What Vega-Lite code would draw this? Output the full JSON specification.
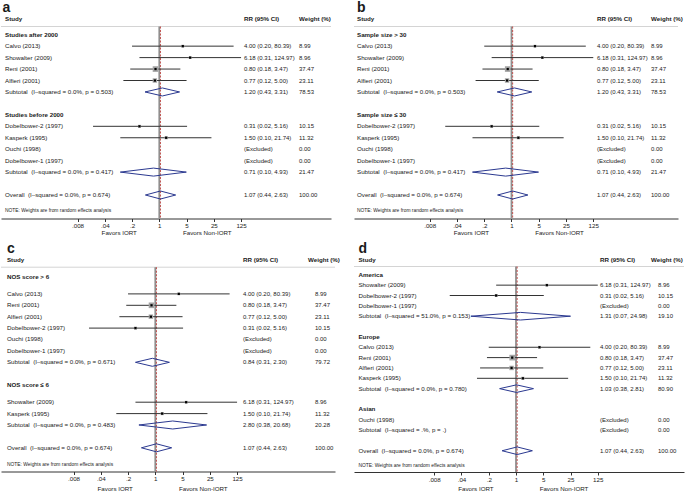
{
"$schema":"https://vega.github.io/schema/vega-lite/v6.json",
"padding":0,
"autosize":{"type":"pad"},
"datasets":{
"a":[
{"row":0,"type":"group","label":"Studies after 2000"},
{"row":1,"type":"study","label":"Calvo (2013)","rr":4.00,"lo":0.20,"hi":80.39,"weight":8.99,"rrtext":"4.00 (0.20, 80.39)","wtext":"8.99"},
{"row":2,"type":"study","label":"Showalter (2009)","rr":6.18,"lo":0.31,"hi":124.97,"weight":8.96,"rrtext":"6.18 (0.31, 124.97)","wtext":"8.96"},
{"row":3,"type":"study","label":"Reni (2001)","rr":0.80,"lo":0.18,"hi":3.47,"weight":37.47,"rrtext":"0.80 (0.18, 3.47)","wtext":"37.47"},
{"row":4,"type":"study","label":"Alfieri (2001)","rr":0.77,"lo":0.12,"hi":5.00,"weight":23.11,"rrtext":"0.77 (0.12, 5.00)","wtext":"23.11"},
{"row":5,"type":"subtotal","label":"Subtotal\u00a0\u00a0(I–squared = 0.0%, p = 0.503)","rr":1.20,"lo":0.43,"hi":3.31,"weight":78.53,"rrtext":"1.20 (0.43, 3.31)","wtext":"78.53"},
{"row":7,"type":"group","label":"Studies before 2000"},
{"row":8,"type":"study","label":"Dobelbower-2 (1997)","rr":0.31,"lo":0.02,"hi":5.16,"weight":10.15,"rrtext":"0.31 (0.02, 5.16)","wtext":"10.15"},
{"row":9,"type":"study","label":"Kasperk (1995)","rr":1.50,"lo":0.10,"hi":21.74,"weight":11.32,"rrtext":"1.50 (0.10, 21.74)","wtext":"11.32"},
{"row":10,"type":"study","label":"Ouchi (1998)","weight":0,"rrtext":"(Excluded)","wtext":"0.00"},
{"row":11,"type":"study","label":"Dobelbower-1 (1997)","weight":0,"rrtext":"(Excluded)","wtext":"0.00"},
{"row":12,"type":"subtotal","label":"Subtotal\u00a0\u00a0(I–squared = 0.0%, p = 0.417)","rr":0.71,"lo":0.10,"hi":4.93,"weight":21.47,"rrtext":"0.71 (0.10, 4.93)","wtext":"21.47"},
{"row":14,"type":"overall","label":"Overall\u00a0\u00a0(I–squared = 0.0%, p = 0.674)","rr":1.07,"lo":0.44,"hi":2.63,"weight":100,"rrtext":"1.07 (0.44, 2.63)","wtext":"100.00"}
],
"b":[
{"row":0,"type":"group","label":"Sample size > 30"},
{"row":1,"type":"study","label":"Calvo (2013)","rr":4.00,"lo":0.20,"hi":80.39,"weight":8.99,"rrtext":"4.00 (0.20, 80.39)","wtext":"8.99"},
{"row":2,"type":"study","label":"Showalter (2009)","rr":6.18,"lo":0.31,"hi":124.97,"weight":8.96,"rrtext":"6.18 (0.31, 124.97)","wtext":"8.96"},
{"row":3,"type":"study","label":"Reni (2001)","rr":0.80,"lo":0.18,"hi":3.47,"weight":37.47,"rrtext":"0.80 (0.18, 3.47)","wtext":"37.47"},
{"row":4,"type":"study","label":"Alfieri (2001)","rr":0.77,"lo":0.12,"hi":5.00,"weight":23.11,"rrtext":"0.77 (0.12, 5.00)","wtext":"23.11"},
{"row":5,"type":"subtotal","label":"Subtotal\u00a0\u00a0(I–squared = 0.0%, p = 0.503)","rr":1.20,"lo":0.43,"hi":3.31,"weight":78.53,"rrtext":"1.20 (0.43, 3.31)","wtext":"78.53"},
{"row":7,"type":"group","label":"Sample size ≤ 30"},
{"row":8,"type":"study","label":"Dobelbower-2 (1997)","rr":0.31,"lo":0.02,"hi":5.16,"weight":10.15,"rrtext":"0.31 (0.02, 5.16)","wtext":"10.15"},
{"row":9,"type":"study","label":"Kasperk (1995)","rr":1.50,"lo":0.10,"hi":21.74,"weight":11.32,"rrtext":"1.50 (0.10, 21.74)","wtext":"11.32"},
{"row":10,"type":"study","label":"Ouchi (1998)","weight":0,"rrtext":"(Excluded)","wtext":"0.00"},
{"row":11,"type":"study","label":"Dobelbower-1 (1997)","weight":0,"rrtext":"(Excluded)","wtext":"0.00"},
{"row":12,"type":"subtotal","label":"Subtotal\u00a0\u00a0(I–squared = 0.0%, p = 0.417)","rr":0.71,"lo":0.10,"hi":4.93,"weight":21.47,"rrtext":"0.71 (0.10, 4.93)","wtext":"21.47"},
{"row":14,"type":"overall","label":"Overall\u00a0\u00a0(I–squared = 0.0%, p = 0.674)","rr":1.07,"lo":0.44,"hi":2.63,"weight":100,"rrtext":"1.07 (0.44, 2.63)","wtext":"100.00"}
],
"c":[
{"row":0,"type":"group","label":"NOS score > 6"},
{"row":1.5,"type":"study","label":"Calvo (2013)","rr":4.00,"lo":0.20,"hi":80.39,"weight":8.99,"rrtext":"4.00 (0.20, 80.39)","wtext":"8.99"},
{"row":2.5,"type":"study","label":"Reni (2001)","rr":0.80,"lo":0.18,"hi":3.47,"weight":37.47,"rrtext":"0.80 (0.18, 3.47)","wtext":"37.47"},
{"row":3.5,"type":"study","label":"Alfieri (2001)","rr":0.77,"lo":0.12,"hi":5.00,"weight":23.11,"rrtext":"0.77 (0.12, 5.00)","wtext":"23.11"},
{"row":4.5,"type":"study","label":"Dobelbower-2 (1997)","rr":0.31,"lo":0.02,"hi":5.16,"weight":10.15,"rrtext":"0.31 (0.02, 5.16)","wtext":"10.15"},
{"row":5.5,"type":"study","label":"Ouchi (1998)","weight":0,"rrtext":"(Excluded)","wtext":"0.00"},
{"row":6.5,"type":"study","label":"Dobelbower-1 (1997)","weight":0,"rrtext":"(Excluded)","wtext":"0.00"},
{"row":7.5,"type":"subtotal","label":"Subtotal\u00a0\u00a0(I–squared = 0.0%, p = 0.671)","rr":0.84,"lo":0.31,"hi":2.30,"weight":79.72,"rrtext":"0.84 (0.31, 2.30)","wtext":"79.72"},
{"row":9.5,"type":"group","label":"NOS score ≤ 6"},
{"row":11,"type":"study","label":"Showalter (2009)","rr":6.18,"lo":0.31,"hi":124.97,"weight":8.96,"rrtext":"6.18 (0.31, 124.97)","wtext":"8.96"},
{"row":12,"type":"study","label":"Kasperk (1995)","rr":1.50,"lo":0.10,"hi":21.74,"weight":11.32,"rrtext":"1.50 (0.10, 21.74)","wtext":"11.32"},
{"row":13,"type":"subtotal","label":"Subtotal\u00a0\u00a0(I–squared = 0.0%, p = 0.483)","rr":2.80,"lo":0.38,"hi":20.68,"weight":20.28,"rrtext":"2.80 (0.38, 20.68)","wtext":"20.28"},
{"row":15,"type":"overall","label":"Overall\u00a0\u00a0(I–squared = 0.0%, p = 0.674)","rr":1.07,"lo":0.44,"hi":2.63,"weight":100,"rrtext":"1.07 (0.44, 2.63)","wtext":"100.00"}
],
"d":[
{"row":0,"type":"group","label":"America"},
{"row":1,"type":"study","label":"Showalter (2009)","rr":6.18,"lo":0.31,"hi":124.97,"weight":8.96,"rrtext":"6.18 (0.31, 124.97)","wtext":"8.96"},
{"row":2,"type":"study","label":"Dobelbower-2 (1997)","rr":0.31,"lo":0.02,"hi":5.16,"weight":10.15,"rrtext":"0.31 (0.02, 5.16)","wtext":"10.15"},
{"row":3,"type":"study","label":"Dobelbower-1 (1997)","weight":0,"rrtext":"(Excluded)","wtext":"0.00"},
{"row":4,"type":"subtotal","label":"Subtotal\u00a0\u00a0(I–squared = 51.0%, p = 0.153)","rr":1.31,"lo":0.07,"hi":24.98,"weight":19.10,"rrtext":"1.31 (0.07, 24.98)","wtext":"19.10"},
{"row":6,"type":"group","label":"Europe"},
{"row":7,"type":"study","label":"Calvo (2013)","rr":4.00,"lo":0.20,"hi":80.39,"weight":8.99,"rrtext":"4.00 (0.20, 80.39)","wtext":"8.99"},
{"row":8,"type":"study","label":"Reni (2001)","rr":0.80,"lo":0.18,"hi":3.47,"weight":37.47,"rrtext":"0.80 (0.18, 3.47)","wtext":"37.47"},
{"row":9,"type":"study","label":"Alfieri (2001)","rr":0.77,"lo":0.12,"hi":5.00,"weight":23.11,"rrtext":"0.77 (0.12, 5.00)","wtext":"23.11"},
{"row":10,"type":"study","label":"Kasperk (1995)","rr":1.50,"lo":0.10,"hi":21.74,"weight":11.32,"rrtext":"1.50 (0.10, 21.74)","wtext":"11.32"},
{"row":11,"type":"subtotal","label":"Subtotal\u00a0\u00a0(I–squared = 0.0%, p = 0.780)","rr":1.03,"lo":0.38,"hi":2.81,"weight":80.90,"rrtext":"1.03 (0.38, 2.81)","wtext":"80.90"},
{"row":13,"type":"group","label":"Asian"},
{"row":14,"type":"study","label":"Ouchi (1998)","weight":0,"rrtext":"(Excluded)","wtext":"0.00"},
{"row":15,"type":"subtotal","label":"Subtotal\u00a0\u00a0(I–squared = .%, p = .)","weight":0,"rrtext":"(Excluded)","wtext":"0.00"},
{"row":17,"type":"overall","label":"Overall\u00a0\u00a0(I–squared = 0.0%, p = 0.674)","rr":1.07,"lo":0.44,"hi":2.63,"weight":100,"rrtext":"1.07 (0.44, 2.63)","wtext":"100.00"}
]
},
"columns":2,
"align":"none",
"bounds":"flush",
"spacing":{"row":21.5,"column":19},
"concat":[
{
"width":330,"height":218.5,"data":{"name":"a"},
"layer":[
{"data":{"values":[{}]},"mark":{"type":"rule","color":"#d4d4d4","strokeWidth":1},"encoding":{"y":{"datum":-0.716,"type":"quantitative","scale":{"domain":[-3.031,16.052],"reverse":true,"nice":false,"zero":false}}}},
{"data":{"values":[{}]},"mark":{"type":"rule","color":"#8f8f8f","strokeWidth":1.8},"encoding":{"x":{"datum":1,"type":"quantitative","scale":{"type":"log","domain":[8.73e-5,25270],"nice":false},"axis":{"values":[0.008,0.04,0.2,1,5,25,125],"labelExpr":"datum.value < 1 ? replace(toString(datum.value), '0.', '.') : toString(datum.value)","title":null}},"y":{"datum":-0.716,"type":"quantitative","scale":{"domain":[-3.031,16.052],"reverse":true,"nice":false,"zero":false}},"y2":{"datum":16.052}}},
{"transform":[{"filter":"datum.type === 'overall'"}],"mark":{"type":"rule","color":"#c0504d","strokeWidth":1,"strokeDash":[2,1.5]},"encoding":{"x":{"field":"rr","type":"quantitative","scale":{"type":"log","domain":[8.73e-5,25270],"nice":false},"title":null},"y":{"datum":-0.716,"type":"quantitative","scale":{"domain":[-3.031,16.052],"reverse":true,"nice":false,"zero":false}},"y2":{"datum":16.052}}},
{"transform":[{"filter":"datum.type === 'study' && isValid(datum.lo)"}],"mark":{"type":"rule","color":"#333333","strokeWidth":1},"encoding":{"x":{"field":"lo","type":"quantitative","scale":{"type":"log","domain":[8.73e-5,25270],"nice":false},"title":null},"x2":{"field":"hi"},"y":{"field":"row","type":"quantitative","scale":{"domain":[-3.031,16.052],"reverse":true,"nice":false,"zero":false},"title":null}}},
{"transform":[{"filter":"datum.type === 'study' && isValid(datum.rr)"}],"mark":{"type":"square","color":"#a3a3a3","opacity":1},"encoding":{"x":{"field":"rr","type":"quantitative","scale":{"type":"log","domain":[8.73e-5,25270],"nice":false},"title":null},"y":{"field":"row","type":"quantitative","scale":{"domain":[-3.031,16.052],"reverse":true,"nice":false,"zero":false},"title":null},"size":{"field":"weight","type":"quantitative","scale":{"domain":[0,40],"range":[0,34]},"legend":null}}},
{"transform":[{"filter":"datum.type === 'study' && isValid(datum.rr)"}],"mark":{"type":"square","color":"#000000","opacity":1,"size":5},"encoding":{"x":{"field":"rr","type":"quantitative","scale":{"type":"log","domain":[8.73e-5,25270],"nice":false},"title":null},"y":{"field":"row","type":"quantitative","scale":{"domain":[-3.031,16.052],"reverse":true,"nice":false,"zero":false},"title":null}}},
{"transform":[{"filter":"(datum.type === 'subtotal' || datum.type === 'overall') && isValid(datum.lo)"}],"mark":{"type":"rule","color":"#2b3990","strokeWidth":1,"y2Offset":-4},"encoding":{"x":{"field":"lo","type":"quantitative","scale":{"type":"log","domain":[8.73e-5,25270],"nice":false},"title":null},"x2":{"field":"rr"},"y":{"field":"row","type":"quantitative","scale":{"domain":[-3.031,16.052],"reverse":true,"nice":false,"zero":false},"title":null},"y2":{"field":"row"}}},
{"transform":[{"filter":"(datum.type === 'subtotal' || datum.type === 'overall') && isValid(datum.lo)"}],"mark":{"type":"rule","color":"#2b3990","strokeWidth":1,"y2Offset":4},"encoding":{"x":{"field":"lo","type":"quantitative","scale":{"type":"log","domain":[8.73e-5,25270],"nice":false},"title":null},"x2":{"field":"rr"},"y":{"field":"row","type":"quantitative","scale":{"domain":[-3.031,16.052],"reverse":true,"nice":false,"zero":false},"title":null},"y2":{"field":"row"}}},
{"transform":[{"filter":"(datum.type === 'subtotal' || datum.type === 'overall') && isValid(datum.lo)"}],"mark":{"type":"rule","color":"#2b3990","strokeWidth":1,"yOffset":-4},"encoding":{"x":{"field":"rr","type":"quantitative","scale":{"type":"log","domain":[8.73e-5,25270],"nice":false},"title":null},"x2":{"field":"hi"},"y":{"field":"row","type":"quantitative","scale":{"domain":[-3.031,16.052],"reverse":true,"nice":false,"zero":false},"title":null},"y2":{"field":"row"}}},
{"transform":[{"filter":"(datum.type === 'subtotal' || datum.type === 'overall') && isValid(datum.lo)"}],"mark":{"type":"rule","color":"#2b3990","strokeWidth":1,"yOffset":4},"encoding":{"x":{"field":"rr","type":"quantitative","scale":{"type":"log","domain":[8.73e-5,25270],"nice":false},"title":null},"x2":{"field":"hi"},"y":{"field":"row","type":"quantitative","scale":{"domain":[-3.031,16.052],"reverse":true,"nice":false,"zero":false},"title":null},"y2":{"field":"row"}}},
{"transform":[{"filter":"datum.type !== 'group'"}],"mark":{"type":"text","align":"left","baseline":"middle","fontSize":6.2},"encoding":{"x":{"datum":1.1055e-4,"type":"quantitative"},"y":{"field":"row","type":"quantitative","title":null},"text":{"field":"label"}}},
{"transform":[{"filter":"datum.type === 'group'"}],"mark":{"type":"text","align":"left","baseline":"middle","fontSize":6.2,"fontWeight":"bold"},"encoding":{"x":{"datum":1.1055e-4,"type":"quantitative"},"y":{"field":"row","type":"quantitative","title":null},"text":{"field":"label"}}},
{"transform":[{"filter":"isValid(datum.rrtext)"}],"mark":{"type":"text","align":"left","baseline":"middle","fontSize":6},"encoding":{"x":{"datum":148.5,"type":"quantitative"},"y":{"field":"row","type":"quantitative","title":null},"text":{"field":"rrtext"}}},
{"transform":[{"filter":"isValid(datum.wtext)"}],"mark":{"type":"text","align":"left","baseline":"middle","fontSize":6},"encoding":{"x":{"datum":3820,"type":"quantitative"},"y":{"field":"row","type":"quantitative","title":null},"text":{"field":"wtext"}}},
{"data":{"values":[{}]},"mark":{"type":"text","text":"Study","align":"left","baseline":"middle","fontSize":6.2,"fontWeight":"bold"},"encoding":{"x":{"datum":1.1055e-4,"type":"quantitative"},"y":{"datum":-1.415,"type":"quantitative"}}},
{"data":{"values":[{}]},"mark":{"type":"text","text":"RR (95% CI)","align":"left","baseline":"middle","fontSize":6.2,"fontWeight":"bold"},"encoding":{"x":{"datum":148.5,"type":"quantitative"},"y":{"datum":-1.415,"type":"quantitative"}}},
{"data":{"values":[{}]},"mark":{"type":"text","text":"Weight (%)","align":"left","baseline":"middle","fontSize":6.2,"fontWeight":"bold"},"encoding":{"x":{"datum":3820,"type":"quantitative"},"y":{"datum":-1.415,"type":"quantitative"}}},
{"data":{"values":[{}]},"mark":{"type":"text","text":"NOTE: Weights are from random effects analysis","align":"left","baseline":"middle","fontSize":4.9},"encoding":{"x":{"datum":1.1055e-4,"type":"quantitative"},"y":{"datum":15.44,"type":"quantitative"}}},
{"data":{"values":[{}]},"mark":{"type":"text","text":"Favors  IORT","align":"center","baseline":"middle","fontSize":6.2},"encoding":{"x":{"datum":0.094,"type":"quantitative"},"y":{"datum":17.32,"type":"quantitative"}}},
{"data":{"values":[{}]},"mark":{"type":"text","text":"Favors  Non-IORT","align":"center","baseline":"middle","fontSize":6.2},"encoding":{"x":{"datum":17,"type":"quantitative"},"y":{"datum":17.32,"type":"quantitative"}}},
{"data":{"values":[{}]},"mark":{"type":"text","text":"a","align":"left","baseline":"alphabetic","fontSize":14,"fontWeight":"bold"},"encoding":{"x":{"datum":9.54e-5,"type":"quantitative"},"y":{"datum":-1.98,"type":"quantitative"}}}
]
},
{
"width":324,"height":218.5,"data":{"name":"b"},
"layer":[
{"data":{"values":[{}]},"mark":{"type":"rule","color":"#d4d4d4","strokeWidth":1},"encoding":{"y":{"datum":-0.716,"type":"quantitative","scale":{"domain":[-3.031,16.052],"reverse":true,"nice":false,"zero":false}}}},
{"data":{"values":[{}]},"mark":{"type":"rule","color":"#8f8f8f","strokeWidth":1.8},"encoding":{"x":{"datum":1,"type":"quantitative","scale":{"type":"log","domain":[9.152e-5,18590],"nice":false},"axis":{"values":[0.008,0.04,0.2,1,5,25,125],"labelExpr":"datum.value < 1 ? replace(toString(datum.value), '0.', '.') : toString(datum.value)","title":null}},"y":{"datum":-0.716,"type":"quantitative","scale":{"domain":[-3.031,16.052],"reverse":true,"nice":false,"zero":false}},"y2":{"datum":16.052}}},
{"transform":[{"filter":"datum.type === 'overall'"}],"mark":{"type":"rule","color":"#c0504d","strokeWidth":1,"strokeDash":[2,1.5]},"encoding":{"x":{"field":"rr","type":"quantitative","scale":{"type":"log","domain":[9.152e-5,18590],"nice":false},"title":null},"y":{"datum":-0.716,"type":"quantitative","scale":{"domain":[-3.031,16.052],"reverse":true,"nice":false,"zero":false}},"y2":{"datum":16.052}}},
{"transform":[{"filter":"datum.type === 'study' && isValid(datum.lo)"}],"mark":{"type":"rule","color":"#333333","strokeWidth":1},"encoding":{"x":{"field":"lo","type":"quantitative","scale":{"type":"log","domain":[9.152e-5,18590],"nice":false},"title":null},"x2":{"field":"hi"},"y":{"field":"row","type":"quantitative","scale":{"domain":[-3.031,16.052],"reverse":true,"nice":false,"zero":false},"title":null}}},
{"transform":[{"filter":"datum.type === 'study' && isValid(datum.rr)"}],"mark":{"type":"square","color":"#a3a3a3","opacity":1},"encoding":{"x":{"field":"rr","type":"quantitative","scale":{"type":"log","domain":[9.152e-5,18590],"nice":false},"title":null},"y":{"field":"row","type":"quantitative","scale":{"domain":[-3.031,16.052],"reverse":true,"nice":false,"zero":false},"title":null},"size":{"field":"weight","type":"quantitative","scale":{"domain":[0,40],"range":[0,34]},"legend":null}}},
{"transform":[{"filter":"datum.type === 'study' && isValid(datum.rr)"}],"mark":{"type":"square","color":"#000000","opacity":1,"size":5},"encoding":{"x":{"field":"rr","type":"quantitative","scale":{"type":"log","domain":[9.152e-5,18590],"nice":false},"title":null},"y":{"field":"row","type":"quantitative","scale":{"domain":[-3.031,16.052],"reverse":true,"nice":false,"zero":false},"title":null}}},
{"transform":[{"filter":"(datum.type === 'subtotal' || datum.type === 'overall') && isValid(datum.lo)"}],"mark":{"type":"rule","color":"#2b3990","strokeWidth":1,"y2Offset":-4},"encoding":{"x":{"field":"lo","type":"quantitative","scale":{"type":"log","domain":[9.152e-5,18590],"nice":false},"title":null},"x2":{"field":"rr"},"y":{"field":"row","type":"quantitative","scale":{"domain":[-3.031,16.052],"reverse":true,"nice":false,"zero":false},"title":null},"y2":{"field":"row"}}},
{"transform":[{"filter":"(datum.type === 'subtotal' || datum.type === 'overall') && isValid(datum.lo)"}],"mark":{"type":"rule","color":"#2b3990","strokeWidth":1,"y2Offset":4},"encoding":{"x":{"field":"lo","type":"quantitative","scale":{"type":"log","domain":[9.152e-5,18590],"nice":false},"title":null},"x2":{"field":"rr"},"y":{"field":"row","type":"quantitative","scale":{"domain":[-3.031,16.052],"reverse":true,"nice":false,"zero":false},"title":null},"y2":{"field":"row"}}},
{"transform":[{"filter":"(datum.type === 'subtotal' || datum.type === 'overall') && isValid(datum.lo)"}],"mark":{"type":"rule","color":"#2b3990","strokeWidth":1,"yOffset":-4},"encoding":{"x":{"field":"rr","type":"quantitative","scale":{"type":"log","domain":[9.152e-5,18590],"nice":false},"title":null},"x2":{"field":"hi"},"y":{"field":"row","type":"quantitative","scale":{"domain":[-3.031,16.052],"reverse":true,"nice":false,"zero":false},"title":null},"y2":{"field":"row"}}},
{"transform":[{"filter":"(datum.type === 'subtotal' || datum.type === 'overall') && isValid(datum.lo)"}],"mark":{"type":"rule","color":"#2b3990","strokeWidth":1,"yOffset":4},"encoding":{"x":{"field":"rr","type":"quantitative","scale":{"type":"log","domain":[9.152e-5,18590],"nice":false},"title":null},"x2":{"field":"hi"},"y":{"field":"row","type":"quantitative","scale":{"domain":[-3.031,16.052],"reverse":true,"nice":false,"zero":false},"title":null},"y2":{"field":"row"}}},
{"transform":[{"filter":"datum.type !== 'group'"}],"mark":{"type":"text","align":"left","baseline":"middle","fontSize":6.2},"encoding":{"x":{"datum":1.0926e-4,"type":"quantitative"},"y":{"field":"row","type":"quantitative","title":null},"text":{"field":"label"}}},
{"transform":[{"filter":"datum.type === 'group'"}],"mark":{"type":"text","align":"left","baseline":"middle","fontSize":6.2,"fontWeight":"bold"},"encoding":{"x":{"datum":1.0926e-4,"type":"quantitative"},"y":{"field":"row","type":"quantitative","title":null},"text":{"field":"label"}}},
{"transform":[{"filter":"isValid(datum.rrtext)"}],"mark":{"type":"text","align":"left","baseline":"middle","fontSize":6},"encoding":{"x":{"datum":155.7,"type":"quantitative"},"y":{"field":"row","type":"quantitative","title":null},"text":{"field":"rrtext"}}},
{"transform":[{"filter":"isValid(datum.wtext)"}],"mark":{"type":"text","align":"left","baseline":"middle","fontSize":6},"encoding":{"x":{"datum":3775,"type":"quantitative"},"y":{"field":"row","type":"quantitative","title":null},"text":{"field":"wtext"}}},
{"data":{"values":[{}]},"mark":{"type":"text","text":"Study","align":"left","baseline":"middle","fontSize":6.2,"fontWeight":"bold"},"encoding":{"x":{"datum":1.0926e-4,"type":"quantitative"},"y":{"datum":-1.415,"type":"quantitative"}}},
{"data":{"values":[{}]},"mark":{"type":"text","text":"RR (95% CI)","align":"left","baseline":"middle","fontSize":6.2,"fontWeight":"bold"},"encoding":{"x":{"datum":155.7,"type":"quantitative"},"y":{"datum":-1.415,"type":"quantitative"}}},
{"data":{"values":[{}]},"mark":{"type":"text","text":"Weight (%)","align":"left","baseline":"middle","fontSize":6.2,"fontWeight":"bold"},"encoding":{"x":{"datum":3775,"type":"quantitative"},"y":{"datum":-1.415,"type":"quantitative"}}},
{"data":{"values":[{}]},"mark":{"type":"text","text":"NOTE: Weights are from random effects analysis","align":"left","baseline":"middle","fontSize":4.9},"encoding":{"x":{"datum":1.0926e-4,"type":"quantitative"},"y":{"datum":15.44,"type":"quantitative"}}},
{"data":{"values":[{}]},"mark":{"type":"text","text":"Favors  IORT","align":"center","baseline":"middle","fontSize":6.2},"encoding":{"x":{"datum":0.094,"type":"quantitative"},"y":{"datum":17.32,"type":"quantitative"}}},
{"data":{"values":[{}]},"mark":{"type":"text","text":"Favors  Non-IORT","align":"center","baseline":"middle","fontSize":6.2},"encoding":{"x":{"datum":17,"type":"quantitative"},"y":{"datum":17.32,"type":"quantitative"}}},
{"data":{"values":[{}]},"mark":{"type":"text","text":"b","align":"left","baseline":"alphabetic","fontSize":14,"fontWeight":"bold"},"encoding":{"x":{"datum":1.0926e-4,"type":"quantitative"},"y":{"datum":-1.98,"type":"quantitative"}}}
]
},
{
"width":334,"height":231,"data":{"name":"c"},
"layer":[
{"data":{"values":[{}]},"mark":{"type":"rule","color":"#d4d4d4","strokeWidth":1},"encoding":{"y":{"datum":-0.842,"type":"quantitative","scale":{"domain":[-3.184,17.079],"reverse":true,"nice":false,"zero":false}}}},
{"data":{"values":[{}]},"mark":{"type":"rule","color":"#8f8f8f","strokeWidth":1.8},"encoding":{"x":{"datum":1,"type":"quantitative","scale":{"type":"log","domain":[1.1055e-4,40530],"nice":false},"axis":{"values":[0.008,0.04,0.2,1,5,25,125],"labelExpr":"datum.value < 1 ? replace(toString(datum.value), '0.', '.') : toString(datum.value)","title":null}},"y":{"datum":-0.842,"type":"quantitative","scale":{"domain":[-3.184,17.079],"reverse":true,"nice":false,"zero":false}},"y2":{"datum":17.079}}},
{"transform":[{"filter":"datum.type === 'overall'"}],"mark":{"type":"rule","color":"#c0504d","strokeWidth":1,"strokeDash":[2,1.5]},"encoding":{"x":{"field":"rr","type":"quantitative","scale":{"type":"log","domain":[1.1055e-4,40530],"nice":false},"title":null},"y":{"datum":-0.842,"type":"quantitative","scale":{"domain":[-3.184,17.079],"reverse":true,"nice":false,"zero":false}},"y2":{"datum":17.079}}},
{"transform":[{"filter":"datum.type === 'study' && isValid(datum.lo)"}],"mark":{"type":"rule","color":"#333333","strokeWidth":1},"encoding":{"x":{"field":"lo","type":"quantitative","scale":{"type":"log","domain":[1.1055e-4,40530],"nice":false},"title":null},"x2":{"field":"hi"},"y":{"field":"row","type":"quantitative","scale":{"domain":[-3.184,17.079],"reverse":true,"nice":false,"zero":false},"title":null}}},
{"transform":[{"filter":"datum.type === 'study' && isValid(datum.rr)"}],"mark":{"type":"square","color":"#a3a3a3","opacity":1},"encoding":{"x":{"field":"rr","type":"quantitative","scale":{"type":"log","domain":[1.1055e-4,40530],"nice":false},"title":null},"y":{"field":"row","type":"quantitative","scale":{"domain":[-3.184,17.079],"reverse":true,"nice":false,"zero":false},"title":null},"size":{"field":"weight","type":"quantitative","scale":{"domain":[0,40],"range":[0,34]},"legend":null}}},
{"transform":[{"filter":"datum.type === 'study' && isValid(datum.rr)"}],"mark":{"type":"square","color":"#000000","opacity":1,"size":5},"encoding":{"x":{"field":"rr","type":"quantitative","scale":{"type":"log","domain":[1.1055e-4,40530],"nice":false},"title":null},"y":{"field":"row","type":"quantitative","scale":{"domain":[-3.184,17.079],"reverse":true,"nice":false,"zero":false},"title":null}}},
{"transform":[{"filter":"(datum.type === 'subtotal' || datum.type === 'overall') && isValid(datum.lo)"}],"mark":{"type":"rule","color":"#2b3990","strokeWidth":1,"y2Offset":-4},"encoding":{"x":{"field":"lo","type":"quantitative","scale":{"type":"log","domain":[1.1055e-4,40530],"nice":false},"title":null},"x2":{"field":"rr"},"y":{"field":"row","type":"quantitative","scale":{"domain":[-3.184,17.079],"reverse":true,"nice":false,"zero":false},"title":null},"y2":{"field":"row"}}},
{"transform":[{"filter":"(datum.type === 'subtotal' || datum.type === 'overall') && isValid(datum.lo)"}],"mark":{"type":"rule","color":"#2b3990","strokeWidth":1,"y2Offset":4},"encoding":{"x":{"field":"lo","type":"quantitative","scale":{"type":"log","domain":[1.1055e-4,40530],"nice":false},"title":null},"x2":{"field":"rr"},"y":{"field":"row","type":"quantitative","scale":{"domain":[-3.184,17.079],"reverse":true,"nice":false,"zero":false},"title":null},"y2":{"field":"row"}}},
{"transform":[{"filter":"(datum.type === 'subtotal' || datum.type === 'overall') && isValid(datum.lo)"}],"mark":{"type":"rule","color":"#2b3990","strokeWidth":1,"yOffset":-4},"encoding":{"x":{"field":"rr","type":"quantitative","scale":{"type":"log","domain":[1.1055e-4,40530],"nice":false},"title":null},"x2":{"field":"hi"},"y":{"field":"row","type":"quantitative","scale":{"domain":[-3.184,17.079],"reverse":true,"nice":false,"zero":false},"title":null},"y2":{"field":"row"}}},
{"transform":[{"filter":"(datum.type === 'subtotal' || datum.type === 'overall') && isValid(datum.lo)"}],"mark":{"type":"rule","color":"#2b3990","strokeWidth":1,"yOffset":4},"encoding":{"x":{"field":"rr","type":"quantitative","scale":{"type":"log","domain":[1.1055e-4,40530],"nice":false},"title":null},"x2":{"field":"hi"},"y":{"field":"row","type":"quantitative","scale":{"domain":[-3.184,17.079],"reverse":true,"nice":false,"zero":false},"title":null},"y2":{"field":"row"}}},
{"transform":[{"filter":"datum.type !== 'group'"}],"mark":{"type":"text","align":"left","baseline":"middle","fontSize":6.2},"encoding":{"x":{"datum":1.575e-4,"type":"quantitative"},"y":{"field":"row","type":"quantitative","title":null},"text":{"field":"label"}}},
{"transform":[{"filter":"datum.type === 'group'"}],"mark":{"type":"text","align":"left","baseline":"middle","fontSize":6.2,"fontWeight":"bold"},"encoding":{"x":{"datum":1.575e-4,"type":"quantitative"},"y":{"field":"row","type":"quantitative","title":null},"text":{"field":"label"}}},
{"transform":[{"filter":"isValid(datum.rrtext)"}],"mark":{"type":"text","align":"left","baseline":"middle","fontSize":6},"encoding":{"x":{"datum":177.4,"type":"quantitative"},"y":{"field":"row","type":"quantitative","title":null},"text":{"field":"rrtext"}}},
{"transform":[{"filter":"isValid(datum.wtext)"}],"mark":{"type":"text","align":"left","baseline":"middle","fontSize":6},"encoding":{"x":{"datum":12440,"type":"quantitative"},"y":{"field":"row","type":"quantitative","title":null},"text":{"field":"wtext"}}},
{"data":{"values":[{}]},"mark":{"type":"text","text":"Study","align":"left","baseline":"middle","fontSize":6.2,"fontWeight":"bold"},"encoding":{"x":{"datum":1.575e-4,"type":"quantitative"},"y":{"datum":-1.43,"type":"quantitative"}}},
{"data":{"values":[{}]},"mark":{"type":"text","text":"RR (95% CI)","align":"left","baseline":"middle","fontSize":6.2,"fontWeight":"bold"},"encoding":{"x":{"datum":177.4,"type":"quantitative"},"y":{"datum":-1.43,"type":"quantitative"}}},
{"data":{"values":[{}]},"mark":{"type":"text","text":"Weight (%)","align":"left","baseline":"middle","fontSize":6.2,"fontWeight":"bold"},"encoding":{"x":{"datum":8232,"type":"quantitative"},"y":{"datum":-1.43,"type":"quantitative"}}},
{"data":{"values":[{}]},"mark":{"type":"text","text":"NOTE: Weights are from random effects analysis","align":"left","baseline":"middle","fontSize":4.9},"encoding":{"x":{"datum":1.575e-4,"type":"quantitative"},"y":{"datum":16.51,"type":"quantitative"}}},
{"data":{"values":[{}]},"mark":{"type":"text","text":"Favors  IORT","align":"center","baseline":"middle","fontSize":6.2},"encoding":{"x":{"datum":0.094,"type":"quantitative"},"y":{"datum":18.61,"type":"quantitative"}}},
{"data":{"values":[{}]},"mark":{"type":"text","text":"Favors  Non-IORT","align":"center","baseline":"middle","fontSize":6.2},"encoding":{"x":{"datum":17,"type":"quantitative"},"y":{"datum":18.61,"type":"quantitative"}}},
{"data":{"values":[{}]},"mark":{"type":"text","text":"c","align":"left","baseline":"alphabetic","fontSize":14,"fontWeight":"bold"},"encoding":{"x":{"datum":1.575e-4,"type":"quantitative"},"y":{"datum":-2.044,"type":"quantitative"}}}
]
},
{
"width":330,"height":231.5,"data":{"name":"d"},
"layer":[
{"data":{"values":[{}]},"mark":{"type":"rule","color":"#d4d4d4","strokeWidth":1},"encoding":{"y":{"datum":-0.802,"type":"quantitative","scale":{"domain":[-3.314,19.053],"reverse":true,"nice":false,"zero":false}}}},
{"data":{"values":[{}]},"mark":{"type":"rule","color":"#8f8f8f","strokeWidth":1.8},"encoding":{"x":{"datum":1,"type":"quantitative","scale":{"type":"log","domain":[7.018e-5,20310],"nice":false},"axis":{"values":[0.008,0.04,0.2,1,5,25,125],"labelExpr":"datum.value < 1 ? replace(toString(datum.value), '0.', '.') : toString(datum.value)","title":null}},"y":{"datum":-0.802,"type":"quantitative","scale":{"domain":[-3.314,19.053],"reverse":true,"nice":false,"zero":false}},"y2":{"datum":19.053}}},
{"transform":[{"filter":"datum.type === 'overall'"}],"mark":{"type":"rule","color":"#c0504d","strokeWidth":1,"strokeDash":[2,1.5]},"encoding":{"x":{"field":"rr","type":"quantitative","scale":{"type":"log","domain":[7.018e-5,20310],"nice":false},"title":null},"y":{"datum":-0.802,"type":"quantitative","scale":{"domain":[-3.314,19.053],"reverse":true,"nice":false,"zero":false}},"y2":{"datum":19.053}}},
{"transform":[{"filter":"datum.type === 'study' && isValid(datum.lo)"}],"mark":{"type":"rule","color":"#333333","strokeWidth":1},"encoding":{"x":{"field":"lo","type":"quantitative","scale":{"type":"log","domain":[7.018e-5,20310],"nice":false},"title":null},"x2":{"field":"hi"},"y":{"field":"row","type":"quantitative","scale":{"domain":[-3.314,19.053],"reverse":true,"nice":false,"zero":false},"title":null}}},
{"transform":[{"filter":"datum.type === 'study' && isValid(datum.rr)"}],"mark":{"type":"square","color":"#a3a3a3","opacity":1},"encoding":{"x":{"field":"rr","type":"quantitative","scale":{"type":"log","domain":[7.018e-5,20310],"nice":false},"title":null},"y":{"field":"row","type":"quantitative","scale":{"domain":[-3.314,19.053],"reverse":true,"nice":false,"zero":false},"title":null},"size":{"field":"weight","type":"quantitative","scale":{"domain":[0,40],"range":[0,34]},"legend":null}}},
{"transform":[{"filter":"datum.type === 'study' && isValid(datum.rr)"}],"mark":{"type":"square","color":"#000000","opacity":1,"size":5},"encoding":{"x":{"field":"rr","type":"quantitative","scale":{"type":"log","domain":[7.018e-5,20310],"nice":false},"title":null},"y":{"field":"row","type":"quantitative","scale":{"domain":[-3.314,19.053],"reverse":true,"nice":false,"zero":false},"title":null}}},
{"transform":[{"filter":"(datum.type === 'subtotal' || datum.type === 'overall') && isValid(datum.lo)"}],"mark":{"type":"rule","color":"#2b3990","strokeWidth":1,"y2Offset":-3.8},"encoding":{"x":{"field":"lo","type":"quantitative","scale":{"type":"log","domain":[7.018e-5,20310],"nice":false},"title":null},"x2":{"field":"rr"},"y":{"field":"row","type":"quantitative","scale":{"domain":[-3.314,19.053],"reverse":true,"nice":false,"zero":false},"title":null},"y2":{"field":"row"}}},
{"transform":[{"filter":"(datum.type === 'subtotal' || datum.type === 'overall') && isValid(datum.lo)"}],"mark":{"type":"rule","color":"#2b3990","strokeWidth":1,"y2Offset":3.8},"encoding":{"x":{"field":"lo","type":"quantitative","scale":{"type":"log","domain":[7.018e-5,20310],"nice":false},"title":null},"x2":{"field":"rr"},"y":{"field":"row","type":"quantitative","scale":{"domain":[-3.314,19.053],"reverse":true,"nice":false,"zero":false},"title":null},"y2":{"field":"row"}}},
{"transform":[{"filter":"(datum.type === 'subtotal' || datum.type === 'overall') && isValid(datum.lo)"}],"mark":{"type":"rule","color":"#2b3990","strokeWidth":1,"yOffset":-3.8},"encoding":{"x":{"field":"rr","type":"quantitative","scale":{"type":"log","domain":[7.018e-5,20310],"nice":false},"title":null},"x2":{"field":"hi"},"y":{"field":"row","type":"quantitative","scale":{"domain":[-3.314,19.053],"reverse":true,"nice":false,"zero":false},"title":null},"y2":{"field":"row"}}},
{"transform":[{"filter":"(datum.type === 'subtotal' || datum.type === 'overall') && isValid(datum.lo)"}],"mark":{"type":"rule","color":"#2b3990","strokeWidth":1,"yOffset":3.8},"encoding":{"x":{"field":"rr","type":"quantitative","scale":{"type":"log","domain":[7.018e-5,20310],"nice":false},"title":null},"x2":{"field":"hi"},"y":{"field":"row","type":"quantitative","scale":{"domain":[-3.314,19.053],"reverse":true,"nice":false,"zero":false},"title":null},"y2":{"field":"row"}}},
{"transform":[{"filter":"datum.type !== 'group'"}],"mark":{"type":"text","align":"left","baseline":"middle","fontSize":6.2},"encoding":{"x":{"datum":9.152e-5,"type":"quantitative"},"y":{"field":"row","type":"quantitative","title":null},"text":{"field":"label"}}},
{"transform":[{"filter":"datum.type === 'group'"}],"mark":{"type":"text","align":"left","baseline":"middle","fontSize":6.2,"fontWeight":"bold"},"encoding":{"x":{"datum":9.152e-5,"type":"quantitative"},"y":{"field":"row","type":"quantitative","title":null},"text":{"field":"label"}}},
{"transform":[{"filter":"isValid(datum.rrtext)"}],"mark":{"type":"text","align":"left","baseline":"middle","fontSize":6},"encoding":{"x":{"datum":142.5,"type":"quantitative"},"y":{"field":"row","type":"quantitative","title":null},"text":{"field":"rrtext"}}},
{"transform":[{"filter":"isValid(datum.wtext)"}],"mark":{"type":"text","align":"left","baseline":"middle","fontSize":6},"encoding":{"x":{"datum":4375,"type":"quantitative"},"y":{"field":"row","type":"quantitative","title":null},"text":{"field":"wtext"}}},
{"data":{"values":[{}]},"mark":{"type":"text","text":"Study","align":"left","baseline":"middle","fontSize":6.2,"fontWeight":"bold"},"encoding":{"x":{"datum":9.152e-5,"type":"quantitative"},"y":{"datum":-1.478,"type":"quantitative"}}},
{"data":{"values":[{}]},"mark":{"type":"text","text":"RR (95% CI)","align":"left","baseline":"middle","fontSize":6.2,"fontWeight":"bold"},"encoding":{"x":{"datum":142.5,"type":"quantitative"},"y":{"datum":-1.478,"type":"quantitative"}}},
{"data":{"values":[{}]},"mark":{"type":"text","text":"Weight (%)","align":"left","baseline":"middle","fontSize":6.2,"fontWeight":"bold"},"encoding":{"x":{"datum":2894,"type":"quantitative"},"y":{"datum":-1.478,"type":"quantitative"}}},
{"data":{"values":[{}]},"mark":{"type":"text","text":"NOTE: Weights are from random effects analysis","align":"left","baseline":"middle","fontSize":4.9},"encoding":{"x":{"datum":9.152e-5,"type":"quantitative"},"y":{"datum":18.47,"type":"quantitative"}}},
{"data":{"values":[{}]},"mark":{"type":"text","text":"Favors  IORT","align":"center","baseline":"middle","fontSize":6.2},"encoding":{"x":{"datum":0.094,"type":"quantitative"},"y":{"datum":20.7,"type":"quantitative"}}},
{"data":{"values":[{}]},"mark":{"type":"text","text":"Favors  Non-IORT","align":"center","baseline":"middle","fontSize":6.2},"encoding":{"x":{"datum":17,"type":"quantitative"},"y":{"datum":20.7,"type":"quantitative"}}},
{"data":{"values":[{}]},"mark":{"type":"text","text":"d","align":"left","baseline":"alphabetic","fontSize":14,"fontWeight":"bold"},"encoding":{"x":{"datum":9.152e-5,"type":"quantitative"},"y":{"datum":-2.058,"type":"quantitative"}}}
]
}
],
"config":{
"view":{"stroke":null},
"font":"Liberation Sans",
"text":{"font":"Liberation Sans","color":"#1a1a1a"},
"axisX":{"domainColor":"#333333","domainWidth":1,"tickColor":"#333333","tickSize":3,"tickWidth":1,"labelFontSize":6.2,"labelFont":"Liberation Sans","labelColor":"#1a1a1a","labelPadding":1,"grid":false,"labelFlush":false,"labelOverlap":false},
"axisY":{"disable":true}
}
}
